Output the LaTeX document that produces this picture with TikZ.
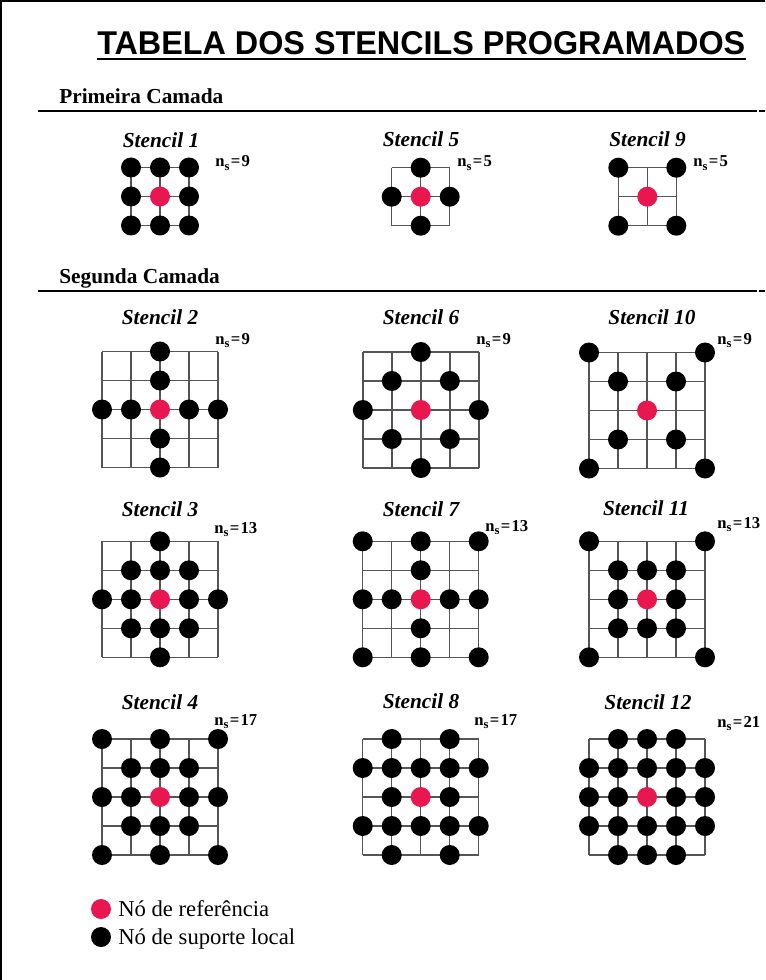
\documentclass[tikz,border=0pt]{standalone}
\usepackage{fontspec}
\setmainfont{Liberation Serif}
\setsansfont{Liberation Sans}
\usetikzlibrary{positioning}
\definecolor{refred}{HTML}{E8174F}
\definecolor{gridgray}{HTML}{555555}
\newcommand{\nsval}[1]{n\raisebox{-0.5ex}{\fontsize{9.5}{9.5}\selectfont s}\hspace{0.08em}=\hspace{0.08em}#1}

\begin{document}
\begin{tikzpicture}[
  x=0.75pt, y=-0.75pt,
  supdot/.style={circle, fill=black, inner sep=0pt, minimum size=15pt},
  refdot/.style={circle, fill=refred, inner sep=0pt, minimum size=15pt},
  gridline/.style={draw=gridgray, line width=1.1pt},
  stenciltitle/.style={font=\fontsize{16}{16}\selectfont\bfseries\itshape, anchor=base, inner sep=0pt},
  nslabel/.style={font=\fontsize{12.5}{12.5}\selectfont\bfseries, anchor=base west, inner sep=0pt},
  sectiontitle/.style={font=\fontsize{16}{16}\selectfont\bfseries, anchor=base west, inner sep=0pt},
  sectionrule/.style={draw=black, line width=1.6pt},
  legendtext/.style={font=\fontsize{17}{17}\selectfont, anchor=base west, inner sep=0pt}
]
  \useasboundingbox (0,0) rectangle (765,980);

  % Frame
  \draw[line width=1pt] (1,980) -- (1,1) -- (765,1);

  % Title
  \node[anchor=base west, inner sep=0pt] (title) at (97,55) {\resizebox{486pt}{17.25pt}{\sffamily\bfseries TABELA DOS STENCILS PROGRAMADOS}};
  \draw[line width=1.5pt] ([yshift=-3pt]title.base west) -- ([yshift=-3pt]title.base east);

  % ==================== PRIMEIRA CAMADA ====================
  \node[sectiontitle] (primeira) at (59,104) {Primeira Camada};
  \draw[sectionrule] (38,111) -- (757,111);
  \draw[sectionrule] (759,111) -- (765,111);

  % Stencil 1
  \node[stenciltitle] (t1) at (161,148) {Stencil 1};
  \node[nslabel] (ns1) at (215,167) {\nsval{9}};
  \begin{scope}[shift={(160,196.5)}, x=21.75pt, y=-21.75pt]
    \foreach \k in {-1,0,1} {\draw[gridline] (\k,-1) -- (\k,1); \draw[gridline] (-1,\k) -- (1,\k);}
    \foreach \dx/\dy [count=\n] in {-1/-1,0/-1,1/-1,-1/0,1/0,-1/1,0/1,1/1}
      \node[supdot] (s1d\n) at (\dx,\dy) {};
    \node[refdot] (s1ref) at (0,0) {};
  \end{scope}

  % Stencil 5
  \node[stenciltitle] (t5) at (421,147) {Stencil 5};
  \node[nslabel] (ns5) at (457,167) {\nsval{5}};
  \begin{scope}[shift={(420.7,196.7)}, x=21.75pt, y=-21.75pt]
    \foreach \k in {-1,0,1} {\draw[gridline] (\k,-1) -- (\k,1); \draw[gridline] (-1,\k) -- (1,\k);}
    \foreach \dx/\dy [count=\n] in {0/-1,-1/0,1/0,0/1}
      \node[supdot] (s5d\n) at (\dx,\dy) {};
    \node[refdot] (s5ref) at (0,0) {};
  \end{scope}

  % Stencil 9
  \node[stenciltitle] (t9) at (647.5,147) {Stencil 9};
  \node[nslabel] (ns9) at (693,167) {\nsval{5}};
  \begin{scope}[shift={(647.3,196.7)}, x=21.75pt, y=-21.75pt]
    \foreach \k in {-1,0,1} {\draw[gridline] (\k,-1) -- (\k,1); \draw[gridline] (-1,\k) -- (1,\k);}
    \foreach \dx/\dy [count=\n] in {-1/-1,1/-1,-1/1,1/1}
      \node[supdot] (s9d\n) at (\dx,\dy) {};
    \node[refdot] (s9ref) at (0,0) {};
  \end{scope}

  % ==================== SEGUNDA CAMADA ====================
  \node[sectiontitle] (segunda) at (59,283) {Segunda Camada};
  \draw[sectionrule] (38,291) -- (757,291);
  \draw[sectionrule] (759,291) -- (765,291);

  % Stencil 2
  \node[stenciltitle] (t2) at (160,325) {Stencil 2};
  \node[nslabel] (ns2) at (215,344) {\nsval{9}};
  \begin{scope}[shift={(160,409.5)}, x=21.75pt, y=-21.75pt]
    \foreach \k in {-2,...,2} {\draw[gridline] (\k,-2) -- (\k,2); \draw[gridline] (-2,\k) -- (2,\k);}
    \foreach \dx/\dy [count=\n] in {0/-2,0/-1,-2/0,-1/0,1/0,2/0,0/1,0/2}
      \node[supdot] (s2d\n) at (\dx,\dy) {};
    \node[refdot] (s2ref) at (0,0) {};
  \end{scope}

  % Stencil 6
  \node[stenciltitle] (t6) at (421,325) {Stencil 6};
  \node[nslabel] (ns6) at (476,344) {\nsval{9}};
  \begin{scope}[shift={(420.8,410)}, x=21.75pt, y=-21.75pt]
    \foreach \k in {-2,...,2} {\draw[gridline] (\k,-2) -- (\k,2); \draw[gridline] (-2,\k) -- (2,\k);}
    \foreach \dx/\dy [count=\n] in {0/-2,-1/-1,1/-1,-2/0,2/0,-1/1,1/1,0/2}
      \node[supdot] (s6d\n) at (\dx,\dy) {};
    \node[refdot] (s6ref) at (0,0) {};
  \end{scope}

  % Stencil 10
  \node[stenciltitle] (t10) at (652,325) {Stencil 10};
  \node[nslabel] (ns10) at (717,344) {\nsval{9}};
  \begin{scope}[shift={(647,410.5)}, x=21.75pt, y=-21.75pt]
    \foreach \k in {-2,...,2} {\draw[gridline] (\k,-2) -- (\k,2); \draw[gridline] (-2,\k) -- (2,\k);}
    \foreach \dx/\dy [count=\n] in {-2/-2,2/-2,-1/-1,1/-1,-1/1,1/1,-2/2,2/2}
      \node[supdot] (s10d\n) at (\dx,\dy) {};
    \node[refdot] (s10ref) at (0,0) {};
  \end{scope}

  % Stencil 3
  \node[stenciltitle] (t3) at (160,516) {Stencil 3};
  \node[nslabel] (ns3) at (214,533) {\nsval{13}};
  \begin{scope}[shift={(160,599.3)}, x=21.75pt, y=-21.75pt]
    \foreach \k in {-2,...,2} {\draw[gridline] (\k,-2) -- (\k,2); \draw[gridline] (-2,\k) -- (2,\k);}
    \foreach \dx/\dy [count=\n] in {0/-2,-1/-1,0/-1,1/-1,-2/0,-1/0,1/0,2/0,-1/1,0/1,1/1,0/2}
      \node[supdot] (s3d\n) at (\dx,\dy) {};
    \node[refdot] (s3ref) at (0,0) {};
  \end{scope}

  % Stencil 7
  \node[stenciltitle] (t7) at (421,516) {Stencil 7};
  \node[nslabel] (ns7) at (485,531) {\nsval{13}};
  \begin{scope}[shift={(420.7,599.3)}, x=21.75pt, y=-21.75pt]
    \foreach \k in {-2,...,2} {\draw[gridline] (\k,-2) -- (\k,2); \draw[gridline] (-2,\k) -- (2,\k);}
    \foreach \dx/\dy [count=\n] in {-2/-2,0/-2,2/-2,0/-1,-2/0,-1/0,1/0,2/0,0/1,-2/2,0/2,2/2}
      \node[supdot] (s7d\n) at (\dx,\dy) {};
    \node[refdot] (s7ref) at (0,0) {};
  \end{scope}

  % Stencil 11
  \node[stenciltitle] (t11) at (646,515) {Stencil 11};
  \node[nslabel] (ns11) at (717,528) {\nsval{13}};
  \begin{scope}[shift={(647,599.3)}, x=21.75pt, y=-21.75pt]
    \foreach \k in {-2,...,2} {\draw[gridline] (\k,-2) -- (\k,2); \draw[gridline] (-2,\k) -- (2,\k);}
    \foreach \dx/\dy [count=\n] in {-2/-2,2/-2,-1/-1,0/-1,1/-1,-1/0,1/0,-1/1,0/1,1/1,-2/2,2/2}
      \node[supdot] (s11d\n) at (\dx,\dy) {};
    \node[refdot] (s11ref) at (0,0) {};
  \end{scope}

  % Stencil 4
  \node[stenciltitle] (t4) at (160,709) {Stencil 4};
  \node[nslabel] (ns4) at (214,725) {\nsval{17}};
  \begin{scope}[shift={(160,797)}, x=21.75pt, y=-21.75pt]
    \foreach \k in {-2,...,2} {\draw[gridline] (\k,-2) -- (\k,2); \draw[gridline] (-2,\k) -- (2,\k);}
    \foreach \dx/\dy [count=\n] in {-2/-2,0/-2,2/-2,-1/-1,0/-1,1/-1,-2/0,-1/0,1/0,2/0,-1/1,0/1,1/1,-2/2,0/2,2/2}
      \node[supdot] (s4d\n) at (\dx,\dy) {};
    \node[refdot] (s4ref) at (0,0) {};
  \end{scope}

  % Stencil 8
  \node[stenciltitle] (t8) at (421,708) {Stencil 8};
  \node[nslabel] (ns8) at (474,725) {\nsval{17}};
  \begin{scope}[shift={(420.7,797)}, x=21.75pt, y=-21.75pt]
    \foreach \k in {-2,...,2} {\draw[gridline] (\k,-2) -- (\k,2); \draw[gridline] (-2,\k) -- (2,\k);}
    \foreach \dx/\dy [count=\n] in {-1/-2,1/-2,-2/-1,-1/-1,0/-1,1/-1,2/-1,-1/0,1/0,-2/1,-1/1,0/1,1/1,2/1,-1/2,1/2}
      \node[supdot] (s8d\n) at (\dx,\dy) {};
    \node[refdot] (s8ref) at (0,0) {};
  \end{scope}

  % Stencil 12
  \node[stenciltitle] (t12) at (648,709) {Stencil 12};
  \node[nslabel] (ns12) at (717,727) {\nsval{21}};
  \begin{scope}[shift={(647,797)}, x=21.75pt, y=-21.75pt]
    \foreach \k in {-2,...,2} {\draw[gridline] (\k,-2) -- (\k,2); \draw[gridline] (-2,\k) -- (2,\k);}
    \foreach \dx/\dy [count=\n] in {-1/-2,0/-2,1/-2,-2/-1,-1/-1,0/-1,1/-1,2/-1,-2/0,-1/0,1/0,2/0,-2/1,-1/1,0/1,1/1,2/1,-1/2,0/2,1/2}
      \node[supdot] (s12d\n) at (\dx,\dy) {};
    \node[refdot] (s12ref) at (0,0) {};
  \end{scope}

  % Legend
  \node[refdot] (legref) at (101,909) {};
  \node[legendtext] (legreftext) at (118,916) {Nó de referência};
  \node[supdot] (legsup) at (101,937) {};
  \node[legendtext] (legsuptext) at (118,944) {Nó de suporte local};

\end{tikzpicture}
\end{document}
